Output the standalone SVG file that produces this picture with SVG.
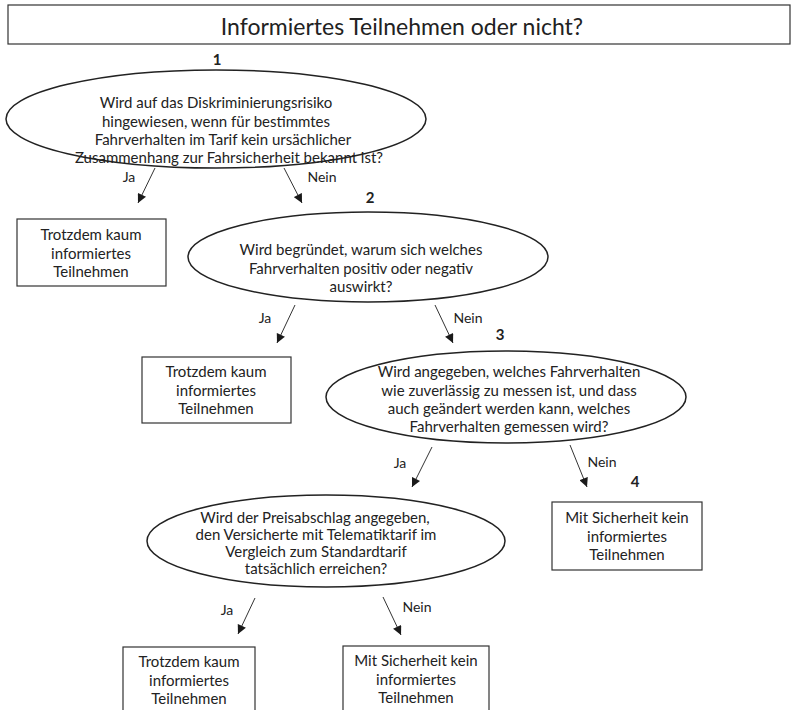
<svg xmlns="http://www.w3.org/2000/svg" width="792" height="710" viewBox="0 0 792 710">
<defs>
<marker id="arr" viewBox="0 0 10 10" refX="10" refY="5" markerWidth="10" markerHeight="9" markerUnits="userSpaceOnUse" orient="auto">
<path d="M0,0 L10,5 L0,10 z" fill="#1a1a1a"/>
</marker>
<style>
.t{font-family:Lato,"Liberation Sans",sans-serif;font-size:15px;fill:#222;text-anchor:middle}
.n{font-family:Lato,"Liberation Sans",sans-serif;font-size:15px;font-weight:bold;fill:#222;text-anchor:middle}
.lb{font-family:Lato,"Liberation Sans",sans-serif;font-size:14px;fill:#222;text-anchor:middle}
.sh{fill:#fff;stroke:#222;stroke-width:1.5}
.bx{fill:#fff;stroke:#333;stroke-width:1.2}
.c{stroke:#333;stroke-width:1;fill:none;marker-end:url(#arr)}
</style>
</defs>
<rect width="792" height="710" fill="#fff"/>
<g id="title">
<rect class="bx" x="8" y="5" width="782" height="39"/>
<text x="402" y="35" style="font-family:Lato,'Liberation Sans',sans-serif;font-size:23px;fill:#222;text-anchor:middle">Informiertes Teilnehmen oder nicht?</text>
</g>
<g id="connectors">
<line class="c" x1="155" y1="168" x2="138" y2="203"/>
<line class="c" x1="284" y1="168" x2="302" y2="203"/>
<line class="c" x1="295" y1="305" x2="277" y2="343"/>
<line class="c" x1="435" y1="305" x2="453" y2="343"/>
<line class="c" x1="432" y1="447" x2="412" y2="487"/>
<line class="c" x1="570" y1="445" x2="587" y2="487"/>
<line class="c" x1="255" y1="598" x2="238" y2="634"/>
<line class="c" x1="383" y1="597" x2="401" y2="635"/>
<text class="lb" x="129" y="182">Ja</text>
<text class="lb" x="322" y="182">Nein</text>
<text class="lb" x="265" y="323">Ja</text>
<text class="lb" x="468" y="323">Nein</text>
<text class="lb" x="400" y="468">Ja</text>
<text class="lb" x="602" y="467">Nein</text>
<text class="lb" x="227" y="615">Ja</text>
<text class="lb" x="417" y="612">Nein</text>
</g>
<g id="q1">
<text class="n" x="217" y="65">1</text>
<ellipse class="sh" cx="216" cy="119" rx="210" ry="49"/>
<text class="t" x="216" y="108">Wird auf das Diskriminierungsrisiko</text>
<text class="t" x="216" y="126.5">hingewiesen, wenn für bestimmtes</text>
<text class="t" x="223" y="145">Fahrverhalten im Tarif kein ursächlicher</text>
<text class="t" x="229" y="163">Zusammenhang zur Fahrsicherheit bekannt ist?</text>
</g>
<g id="r1">
<rect class="bx" x="17" y="219" width="149" height="67"/>
<text class="t" x="91" y="240">Trotzdem kaum</text>
<text class="t" x="91" y="258.5">informiertes</text>
<text class="t" x="91" y="277">Teilnehmen</text>
</g>
<g id="q2">
<text class="n" x="370" y="203">2</text>
<ellipse class="sh" cx="368" cy="257" rx="180" ry="45"/>
<text class="t" x="361" y="255">Wird begründet, warum sich welches</text>
<text class="t" x="361" y="273.5">Fahrverhalten positiv oder negativ</text>
<text class="t" x="361" y="292">auswirkt?</text>
</g>
<g id="r2">
<rect class="bx" x="142" y="357" width="149" height="66"/>
<text class="t" x="216" y="377">Trotzdem kaum</text>
<text class="t" x="216" y="395.5">informiertes</text>
<text class="t" x="216" y="414">Teilnehmen</text>
</g>
<g id="q3">
<text class="n" x="500" y="340">3</text>
<ellipse class="sh" cx="506" cy="397" rx="180" ry="46"/>
<text class="t" x="509" y="377">Wird angegeben, welches Fahrverhalten</text>
<text class="t" x="509" y="395.5">wie zuverlässig zu messen ist, und dass</text>
<text class="t" x="509" y="414">auch geändert werden kann, welches</text>
<text class="t" x="509" y="432">Fahrverhalten gemessen wird?</text>
</g>
<g id="r4">
<text class="n" x="635" y="487">4</text>
<rect class="bx" x="552" y="502" width="150" height="68"/>
<text class="t" x="627" y="523">Mit Sicherheit kein</text>
<text class="t" x="627" y="541.5">informiertes</text>
<text class="t" x="627" y="560">Teilnehmen</text>
</g>
<g id="q4">
<ellipse class="sh" cx="326" cy="541" rx="179" ry="46"/>
<text class="t" x="315" y="523">Wird der Preisabschlag angegeben,</text>
<text class="t" x="316" y="540">den Versicherte mit Telematiktarif im</text>
<text class="t" x="316" y="557">Vergleich zum Standardtarif</text>
<text class="t" x="316" y="574">tatsächlich erreichen?</text>
</g>
<g id="r5">
<rect class="bx" x="123" y="647" width="132" height="66"/>
<text class="t" x="189" y="667">Trotzdem kaum</text>
<text class="t" x="189" y="685.5">informiertes</text>
<text class="t" x="189" y="704">Teilnehmen</text>
</g>
<g id="r6">
<rect class="bx" x="343" y="646" width="146" height="67"/>
<text class="t" x="416" y="666">Mit Sicherheit kein</text>
<text class="t" x="416" y="685">informiertes</text>
<text class="t" x="416" y="703">Teilnehmen</text>
</g>
</svg>
